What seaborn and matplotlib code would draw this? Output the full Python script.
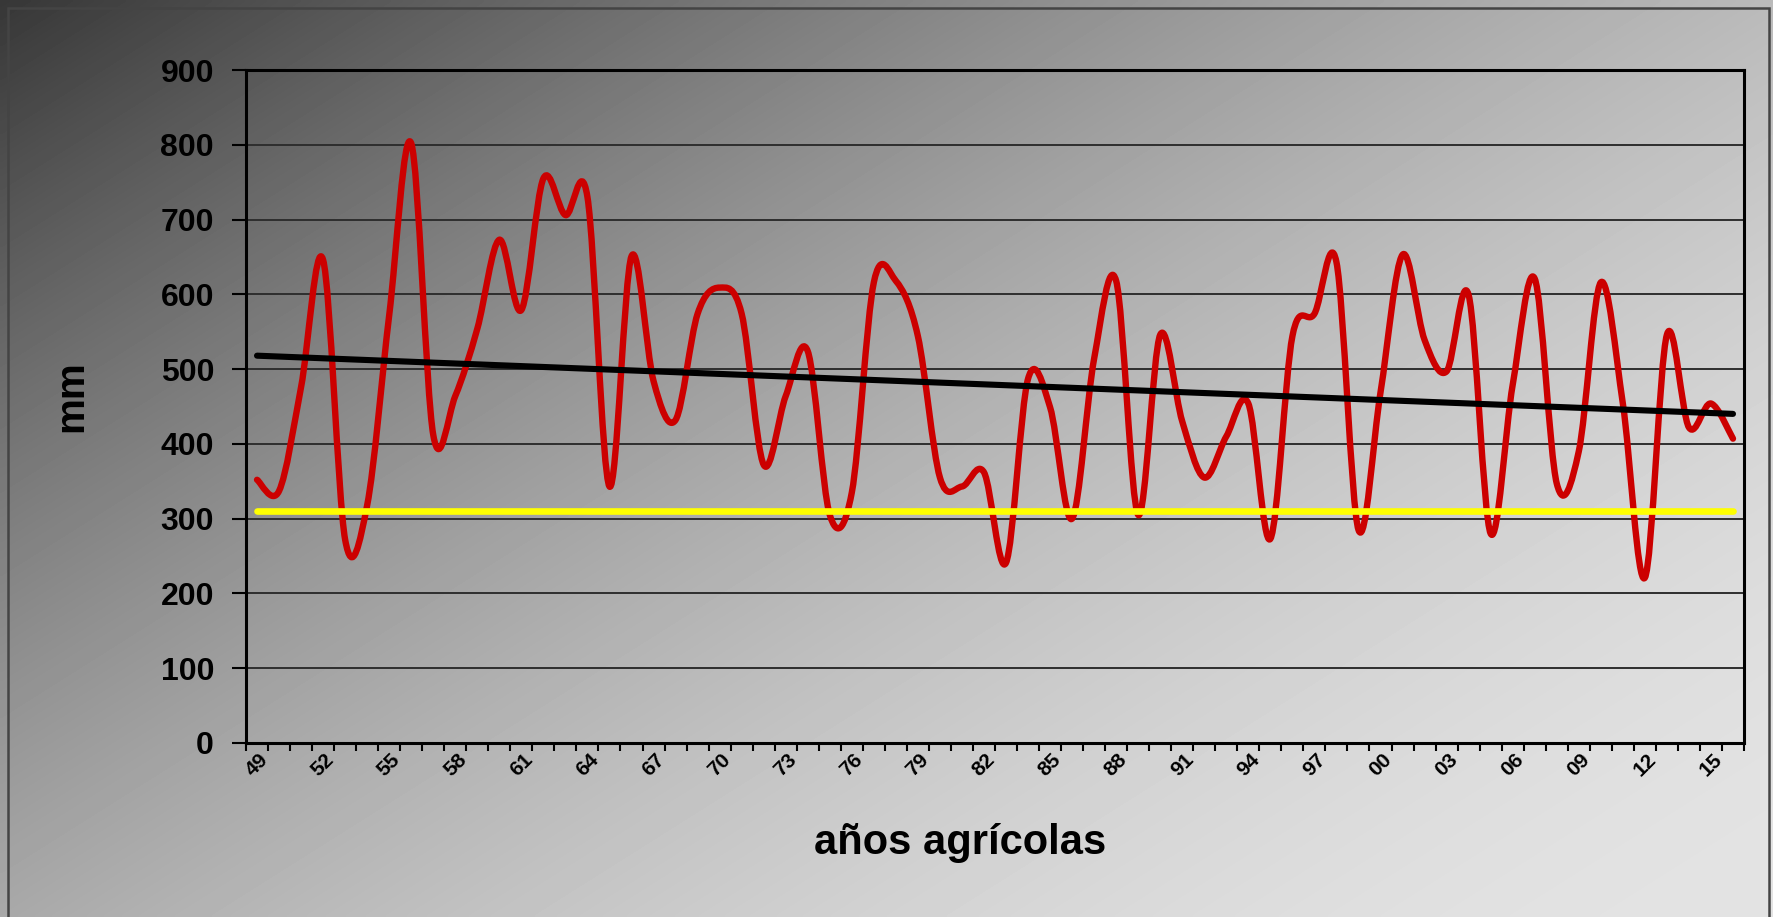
import numpy as np
import pandas as pd
import matplotlib
matplotlib.use("Agg")
import matplotlib.pyplot as plt
from matplotlib.path import Path
from matplotlib.patches import PathPatch, Rectangle
import seaborn as sns

# Data: agricultural years 1949/50 .. 2016/17, annual rainfall (mm)
years = list(range(1949, 2017))
rain_mm = [352, 337, 476, 646, 272, 318, 572, 802, 412, 464,
           554, 673, 579, 755, 706, 730, 343, 651, 484, 432,
           574, 609, 574, 372, 464, 524, 305, 335, 616, 618,
           544, 355, 343, 362, 241, 487, 449, 300, 514, 618,
           305, 546, 430, 355, 410, 454, 273, 544, 574, 643,
           285, 469, 653, 539, 497, 599, 280, 479, 621, 347,
           390, 616, 454, 221, 546, 422, 454, 407]
threshold_mm = 310
tick_years = years[::3]
tick_labels = [f"{y % 100:02d}" for y in tick_years]
y_ticks = list(range(0, 1000, 100))

df = pd.DataFrame({"idx": np.arange(len(years)), "year": years, "mm": rain_mm})

sns.set_theme(style="white")
plt.rcParams["font.family"] = ["Liberation Sans", "DejaVu Sans"]
plt.rcParams["font.weight"] = "bold"
for key in ["text.color", "axes.labelcolor", "xtick.color", "ytick.color"]:
    plt.rcParams[key] = "black"


def smooth_path(xs, ys):
    # excel-like smoothed line: cubic bezier through every point
    pts = np.column_stack([xs, ys]).astype(float)
    n = len(pts)
    verts = [pts[0]]
    codes = [Path.MOVETO]
    for i in range(n - 1):
        p0 = pts[i - 1] if i > 0 else pts[i]
        p1 = pts[i]
        p2 = pts[i + 1]
        p3 = pts[i + 2] if i + 2 < n else pts[i + 1]
        verts += [p1 + (p2 - p0) / 6, p2 - (p3 - p1) / 6, p2]
        codes += [Path.CURVE4] * 3
    return Path(verts, codes)


fig = plt.figure(figsize=(17.74, 9.17), dpi=100)

# gray gradient behind everything, dark top-left to light bottom-right
bg = fig.add_axes([0, 0, 1, 1], zorder=0)
U, W = np.meshgrid(np.linspace(0, 1, 500), np.linspace(0, 1, 260))
s = 0.55 * U + 0.45 * W
grad = 55 + 172 * (1 - (1 - s) ** 1.8)
bg.imshow(grad, cmap="gray", vmin=0, vmax=255, aspect="auto", interpolation="bilinear")
bg.set_axis_off()

ax = fig.add_axes([246 / 1774, 1 - 743 / 917, 1498 / 1774, 673 / 917], zorder=1)
ax.patch.set_alpha(0)

# rainfall series
red = PathPatch(smooth_path(df["idx"], df["mm"]), facecolor="none",
                edgecolor="#cc0000", lw=4.6, zorder=3, capstyle="round", joinstyle="round")
ax.add_patch(red)

# linear trend
sns.regplot(data=df, x="idx", y="mm", scatter=False, ci=None, truncate=True,
            color="black", line_kws={"lw": 4.4, "zorder": 4, "solid_capstyle": "round"}, ax=ax)

# threshold line
sns.lineplot(x=[df["idx"].min(), df["idx"].max()], y=[threshold_mm, threshold_mm],
             color="#ffff00", lw=4.8, zorder=5, ax=ax)

ax.set_xlim(-0.5, len(years) - 0.5)
ax.set_ylim(0, 900)
ax.set_yticks(y_ticks)
ax.set_yticklabels([str(v) for v in y_ticks], fontsize=23, fontweight="bold")
ax.yaxis.grid(True, color="#2e2e2e", lw=1.4, zorder=1)
ax.set_axisbelow(True)

ax.set_xticks([years.index(y) for y in tick_years])
ax.set_xticklabels(tick_labels, rotation=45, ha="center", fontsize=15, fontweight="bold")
ax.set_xticks(np.arange(-0.5, len(years), 1), minor=True)
ax.tick_params(axis="x", which="major", length=0, pad=5)
ax.tick_params(axis="x", which="minor", direction="out", length=6, width=1.5, color="black", bottom=True)
ax.tick_params(axis="y", direction="out", length=10, width=1.5, color="black", pad=13, left=True)

for sp in ax.spines.values():
    sp.set_color("black")
    sp.set_linewidth(2.2)

ax.set_xlabel("años agrícolas", fontsize=30, fontweight="bold", va="center")
ax.xaxis.set_label_coords((960 - 246) / 1498, (743 - 843) / 673)
ax.set_ylabel("mm", fontsize=29, fontweight="bold", va="center")
ax.yaxis.set_label_coords((71 - 246) / 1498, (743 - 396) / 673)

# outer frame
fig.add_artist(Rectangle((8 / 1774, -0.02), (1769 - 8) / 1774, 1.02 - 8 / 917,
                         fill=False, edgecolor="#444444", lw=1.8, transform=fig.transFigure))

fig.savefig("out.png", dpi=100)
